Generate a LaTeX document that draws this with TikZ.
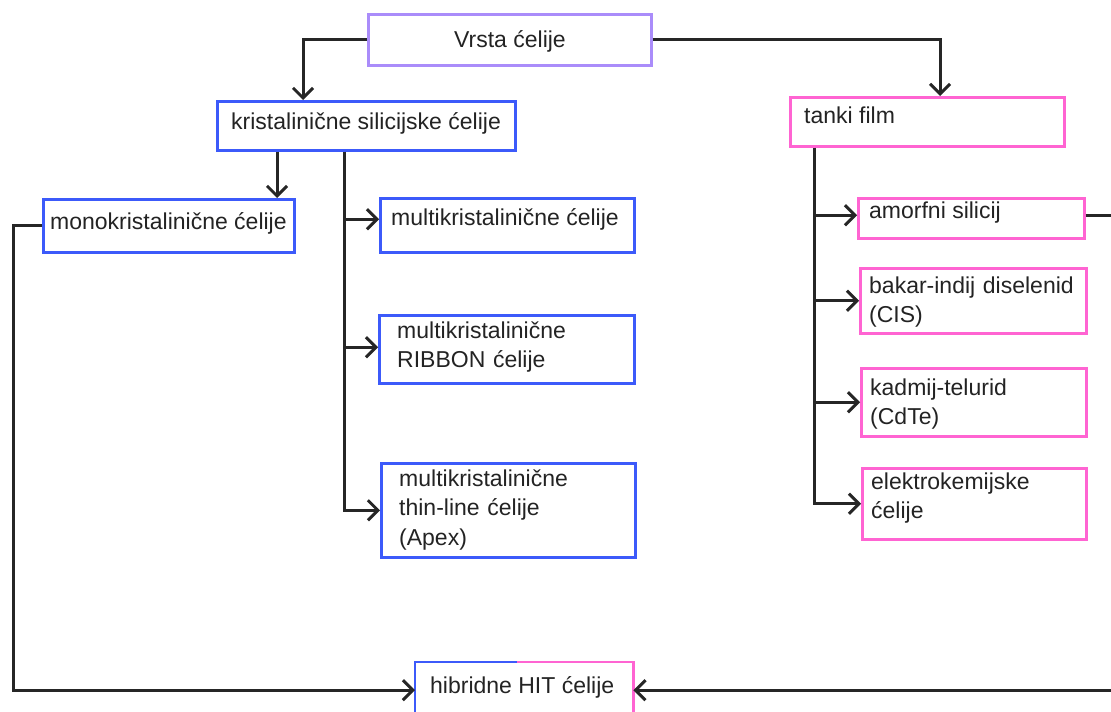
\documentclass[tikz,border=0pt]{standalone}
\usepackage{fontspec}
\setmainfont{Liberation Sans}
\usetikzlibrary{arrows.meta}
\definecolor{bblue}{RGB}{60,90,250}
\definecolor{ppink}{RGB}{255,100,210}
\definecolor{ppurple}{RGB}{170,140,250}
\definecolor{tgray}{RGB}{35,35,35}
\begin{document}
\begin{tikzpicture}[x=1pt,y=-1pt,
  box/.style={draw=#1, line width=2.5pt, inner sep=0pt, anchor=north west},
  tx/.style={anchor=base west, inner sep=0pt, text=tgray, font=\fontsize{23}{29.5}\selectfont},
  mtx/.style={tx, text width=240pt, align=left},
  conn/.style={line width=3pt, draw=black!85},
  arr/.style={conn, -{Straight Barb[length=10pt,width=20pt]}}]
\useasboundingbox (0,0) rectangle (1111,712);
% boxes
\node[box=ppurple, minimum width=283pt, minimum height=51pt] (vr) at (367,13) {};
\node[box=bblue, minimum width=298pt, minimum height=49pt] (kr) at (216,100) {};
\node[box=ppink, minimum width=274pt, minimum height=49pt] (tk) at (789,96) {};
\node[box=bblue, minimum width=251pt, minimum height=53pt] (mo) at (42,198) {};
\node[box=bblue, minimum width=254pt, minimum height=54pt] (mu) at (379,197) {};
\node[box=bblue, minimum width=255pt, minimum height=68pt] (rb) at (378,314) {};
\node[box=bblue, minimum width=254pt, minimum height=94pt] (th) at (380,462) {};
\node[box=ppink, minimum width=226pt, minimum height=40pt] (am) at (857,197) {};
\node[box=ppink, minimum width=226pt, minimum height=65pt] (bk) at (859,267) {};
\node[box=ppink, minimum width=225pt, minimum height=68pt] (kd) at (860,367) {};
\node[box=ppink, minimum width=224pt, minimum height=71pt] (el) at (861,467) {};
\node[inner sep=0pt, anchor=north west, minimum width=218pt, minimum height=56pt] (hb) at (415,662) {};
\draw[bblue, line width=2.5pt] (hb.south west) |- ([xshift=-7pt]hb.north);
\draw[ppink, line width=2.5pt] ([xshift=-7pt]hb.north) -| (hb.south east);
% texts
\node[tx, anchor=base] (tvr) at (510,47) {Vrsta ćelije};
\node[tx] (tkr) at (231,129) {kristalinične silicijske ćelije};
\node[tx] (ttk) at (804,123) {tanki film};
\node[tx] (tmo) at (50,229) {monokristalinične ćelije};
\node[tx] (tmu) at (391,225) {multikristalinične ćelije};
\node[mtx] (trb) at (397,338) {multikristalinične\\RIBBON ćelije};
\node[mtx] (tth) at (399,486) {multikristalinične\\thin-line ćelije\\(Apex)};
\node[tx] (tam) at (869,218) {amorfni silicij};
\node[mtx] (tbk) at (869,293) {bakar-indij diselenid\\(CIS)};
\node[mtx] (tkd) at (870,395) {kadmij-telurid\\(CdTe)};
\node[mtx] (tel) at (871,489) {elektrokemijske\\ćelije};
\node[tx] (thb) at (430,693) {hibridne HIT ćelije};
% attachment points
\coordinate (muin) at ([yshift=6pt]mu.west);
\coordinate (rbin) at ([yshift=2pt]rb.west);
\coordinate (amin) at ([yshift=3pt]am.west);
\coordinate (amout) at ([yshift=3pt]am.east);
\coordinate (kt) at ([xshift=128pt]kr.south west);
\coordinate (tt) at ([xshift=25pt]tk.south west);
% connectors
\draw[arr] (vr.west) -| ([xshift=87pt]kr.north west);
\draw[arr] (vr.east) -| ([xshift=151pt]tk.north west);
\draw[arr] ([xshift=61pt]kr.south west) -- ([xshift=61pt]kr.south west |- mo.north);
\draw[arr] (kt) |- (th.west);
\draw[arr] (kt |- muin) -- (muin);
\draw[arr] (kt |- rbin) -- (rbin);
\draw[arr] (tt) |- (el.west);
\draw[arr] (tt |- amin) -- (amin);
\draw[arr] (tt |- bk.west) -- (bk.west);
\draw[arr] (tt |- kd.west) -- (kd.west);
\draw[arr] (mo.west) -- ++(-29,0) |- (hb.west);
\draw[arr] (amout) -- ++(34,0) |- (hb.east);
\end{tikzpicture}
\end{document}
